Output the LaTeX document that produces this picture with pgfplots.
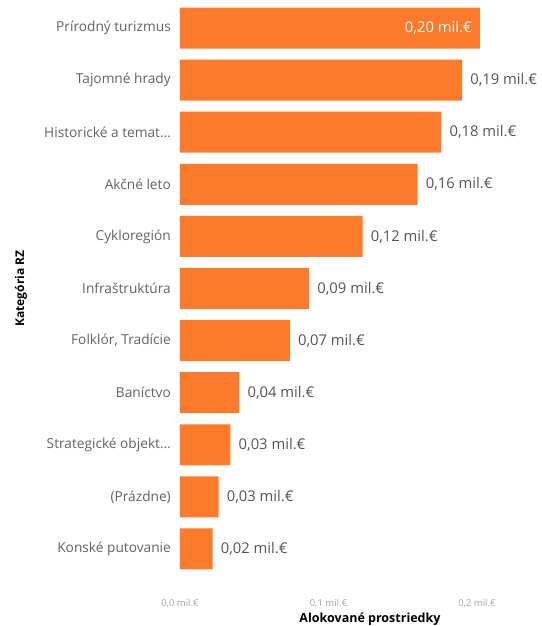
\documentclass[border=0pt]{standalone}
\usepackage{fontspec}
\setmainfont{Open Sans}
\usepackage{pgfplots}
\usepackage{pgfplotstable}
\pgfplotsset{compat=1.18}

\definecolor{barorange}{HTML}{FC7A2B}
\definecolor{catgray}{HTML}{66625F}
\definecolor{lblgray}{HTML}{555555}
\definecolor{tickgray}{HTML}{A8A4A0}

% values in mil. EUR, categories top to bottom
\pgfplotstableread{
idx val   lout          lin
0   0.202 {}            {0,20 mil.€}
1   0.190 {0,19 mil.€}  {}
2   0.176 {0,18 mil.€}  {}
3   0.160 {0,16 mil.€}  {}
4   0.123 {0,12 mil.€}  {}
5   0.087 {0,09 mil.€}  {}
6   0.074 {0,07 mil.€}  {}
7   0.040 {0,04 mil.€}  {}
8   0.034 {0,03 mil.€}  {}
9   0.026 {0,03 mil.€}  {}
10  0.022 {0,02 mil.€}  {}
}\alloc

\begin{document}
\begin{tikzpicture}
\useasboundingbox (-180pt,-51pt) rectangle (361pt,575pt);
\begin{axis}[
    scale only axis,
    width=361pt, height=573pt,
    xmin=0, xmax=0.2431,
    ymin=-0.5, ymax=10.5,
    y dir=reverse,
    xbar, bar width=41pt,
    axis line style={draw=none},
    tick style={draw=none},
    major tick length=0pt,
    xtick={0,0.1,0.2},
    xticklabels={{0,0 mil.€},{0,1 mil.€},{0,2 mil.€}},
    xticklabel style={anchor=center, yshift=-28pt, font=\fontsize{9.5}{11}\selectfont, text=tickgray},
    ytick={0,1,2,3,4,5,6,7,8,9,10},
    yticklabels={{Prírodný turizmus}, {Tajomné hrady}, {Historické a temat…}, {Akčné leto}, {Cykloregión}, {Infraštruktúra}, {Folklór, Tradície}, {Baníctvo}, {Strategické objekt…}, {(Prázdne)}, {Konské putovanie}},
    yticklabel style={anchor=east, inner sep=0pt, xshift=-9pt, font=\fontsize{13.7}{16}\selectfont, text=catgray},
    xlabel={Alokované prostriedky},
    xlabel style={at={(axis description cs:0,0)}, anchor=center, xshift=190pt, yshift=-44pt, font=\fontsize{12.5}{14}\selectfont\bfseries},
    ylabel={Kategória RZ},
    ylabel style={at={(axis description cs:0,0.5)}, anchor=center, yshift=159pt, font=\fontsize{12}{14}\selectfont\bfseries},
    nodes near coords,
    point meta=explicit symbolic,
]
\addplot[fill=barorange, draw=none, bar shift=0pt,
    nodes near coords style={anchor=west, inner sep=0pt, xshift=8pt, font=\fontsize{14.8}{17}\selectfont, text=lblgray}]
    table[x=val, y=idx, meta=lout] {\alloc};
\addplot[fill=none, draw=none, bar shift=0pt,
    skip coords between index={1}{11},
    nodes near coords style={anchor=east, inner sep=0pt, xshift=-8pt, font=\fontsize{14.8}{17}\selectfont, text=white}]
    table[x=val, y=idx, meta=lin] {\alloc};
\end{axis}
\end{tikzpicture}
\end{document}
